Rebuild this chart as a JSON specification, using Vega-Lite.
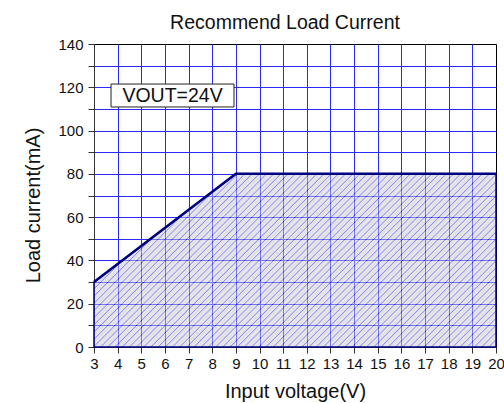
{
  "$schema": "https://vega.github.io/schema/vega-lite/v6.json",
  "width": 402,
  "height": 303,
  "autosize": "none",
  "padding": {"left": 94, "top": 44, "right": 8, "bottom": 56},
  "background": "white",
  "config": {"view": {"stroke": "#000000", "strokeWidth": 1}, "font": "Liberation Sans"},
  "title": {"text": "Recommend Load Current", "fontSize": 19.5, "fontWeight": "normal", "color": "#111111", "dx": -10, "offset": 4, "font": "Liberation Sans"},
  "datasets": {
    "curve": [
      {"v": 3, "i": 30},
      {"v": 9, "i": 80},
      {"v": 20, "i": 80}
    ],
    "box": [
      {"v": 3.72, "v2": 8.92, "i": 110.9, "i2": 121.5}
    ],
    "label": [
      {"v": 6.32, "i": 116.2, "label": "VOUT=24V"}
    ]
  },
  "encoding": {
    "x": {
      "field": "v", "type": "quantitative",
      "scale": {"domain": [3, 20], "nice": false, "zero": false},
      "axis": {
        "title": "Input voltage(V)",
        "values": [3, 4, 5, 6, 7, 8, 9, 10, 11, 12, 13, 14, 15, 16, 17, 18, 19, 20],
        "labelFontSize": 15, "labelColor": "#111111", "labelPadding": 3, "labelFlush": false, "labelOverlap": false,
        "tickSize": 6, "tickColor": "#333333", "domainColor": "#333333",
        "titleFontSize": 20, "titleFontWeight": "normal", "titleColor": "#111111", "titlePadding": 10,
        "gridColor": {"condition": {"test": "datum.value == 20", "value": "transparent"}, "value": "#2828ff"},
        "gridOpacity": 1, "gridWidth": 1
      }
    },
    "y": {
      "field": "i", "type": "quantitative",
      "scale": {"domain": [0, 140], "nice": false},
      "axis": {
        "title": "Load current(mA)",
        "values": [0, 10, 20, 30, 40, 50, 60, 70, 80, 90, 100, 110, 120, 130, 140],
        "labelExpr": "datum.value % 20 === 0 ? datum.label : ''",
        "labelFontSize": 15, "labelColor": "#111111", "labelPadding": 5, "labelFlush": false, "labelOverlap": false,
        "tickSize": 6, "tickColor": "#333333", "domainColor": "#333333",
        "titleFontSize": 20, "titleFontWeight": "normal", "titleColor": "#111111", "titlePadding": 14, "titleY": 161,
        "gridColor": {"condition": {"test": "datum.value == 140", "value": "transparent"}, "value": "#2828ff"},
        "gridOpacity": 1, "gridWidth": 1
      }
    }
  },
  "layer": [
    {
      "data": {"name": "curve"},
      "mark": {
        "type": "area",
        "fillOpacity": 0.5,
        "stroke": "#000080",
        "strokeWidth": 1.5,
        "fill": {
          "gradient": "linear", "x1": 0, "y1": 0, "x2": 1.2068, "y2": 0.5198,
          "stops": [
            {"offset": 0.0105, "color": "#c9c9d1"}, {"offset": 0.0125, "color": "#2020e0"}, {"offset": 0.0145, "color": "#c9c9d1"},
            {"offset": 0.023, "color": "#c9c9d1"}, {"offset": 0.025, "color": "#2020e0"}, {"offset": 0.027, "color": "#c9c9d1"},
            {"offset": 0.0355, "color": "#c9c9d1"}, {"offset": 0.0375, "color": "#2020e0"}, {"offset": 0.0395, "color": "#c9c9d1"},
            {"offset": 0.048, "color": "#c9c9d1"}, {"offset": 0.05, "color": "#2020e0"}, {"offset": 0.052, "color": "#c9c9d1"},
            {"offset": 0.0605, "color": "#c9c9d1"}, {"offset": 0.0625, "color": "#2020e0"}, {"offset": 0.0645, "color": "#c9c9d1"},
            {"offset": 0.073, "color": "#c9c9d1"}, {"offset": 0.075, "color": "#2020e0"}, {"offset": 0.077, "color": "#c9c9d1"},
            {"offset": 0.0855, "color": "#c9c9d1"}, {"offset": 0.0875, "color": "#2020e0"}, {"offset": 0.0895, "color": "#c9c9d1"},
            {"offset": 0.098, "color": "#c9c9d1"}, {"offset": 0.1, "color": "#2020e0"}, {"offset": 0.102, "color": "#c9c9d1"},
            {"offset": 0.1105, "color": "#c9c9d1"}, {"offset": 0.1125, "color": "#2020e0"}, {"offset": 0.1145, "color": "#c9c9d1"},
            {"offset": 0.123, "color": "#c9c9d1"}, {"offset": 0.125, "color": "#2020e0"}, {"offset": 0.127, "color": "#c9c9d1"},
            {"offset": 0.1355, "color": "#c9c9d1"}, {"offset": 0.1375, "color": "#2020e0"}, {"offset": 0.1395, "color": "#c9c9d1"},
            {"offset": 0.148, "color": "#c9c9d1"}, {"offset": 0.15, "color": "#2020e0"}, {"offset": 0.152, "color": "#c9c9d1"},
            {"offset": 0.1605, "color": "#c9c9d1"}, {"offset": 0.1625, "color": "#2020e0"}, {"offset": 0.1645, "color": "#c9c9d1"},
            {"offset": 0.173, "color": "#c9c9d1"}, {"offset": 0.175, "color": "#2020e0"}, {"offset": 0.177, "color": "#c9c9d1"},
            {"offset": 0.1855, "color": "#c9c9d1"}, {"offset": 0.1875, "color": "#2020e0"}, {"offset": 0.1895, "color": "#c9c9d1"},
            {"offset": 0.198, "color": "#c9c9d1"}, {"offset": 0.2, "color": "#2020e0"}, {"offset": 0.202, "color": "#c9c9d1"},
            {"offset": 0.2105, "color": "#c9c9d1"}, {"offset": 0.2125, "color": "#2020e0"}, {"offset": 0.2145, "color": "#c9c9d1"},
            {"offset": 0.223, "color": "#c9c9d1"}, {"offset": 0.225, "color": "#2020e0"}, {"offset": 0.227, "color": "#c9c9d1"},
            {"offset": 0.2355, "color": "#c9c9d1"}, {"offset": 0.2375, "color": "#2020e0"}, {"offset": 0.2395, "color": "#c9c9d1"},
            {"offset": 0.248, "color": "#c9c9d1"}, {"offset": 0.25, "color": "#2020e0"}, {"offset": 0.252, "color": "#c9c9d1"},
            {"offset": 0.2605, "color": "#c9c9d1"}, {"offset": 0.2625, "color": "#2020e0"}, {"offset": 0.2645, "color": "#c9c9d1"},
            {"offset": 0.273, "color": "#c9c9d1"}, {"offset": 0.275, "color": "#2020e0"}, {"offset": 0.277, "color": "#c9c9d1"},
            {"offset": 0.2855, "color": "#c9c9d1"}, {"offset": 0.2875, "color": "#2020e0"}, {"offset": 0.2895, "color": "#c9c9d1"},
            {"offset": 0.298, "color": "#c9c9d1"}, {"offset": 0.3, "color": "#2020e0"}, {"offset": 0.302, "color": "#c9c9d1"},
            {"offset": 0.3105, "color": "#c9c9d1"}, {"offset": 0.3125, "color": "#2020e0"}, {"offset": 0.3145, "color": "#c9c9d1"},
            {"offset": 0.323, "color": "#c9c9d1"}, {"offset": 0.325, "color": "#2020e0"}, {"offset": 0.327, "color": "#c9c9d1"},
            {"offset": 0.3355, "color": "#c9c9d1"}, {"offset": 0.3375, "color": "#2020e0"}, {"offset": 0.3395, "color": "#c9c9d1"},
            {"offset": 0.348, "color": "#c9c9d1"}, {"offset": 0.35, "color": "#2020e0"}, {"offset": 0.352, "color": "#c9c9d1"},
            {"offset": 0.3605, "color": "#c9c9d1"}, {"offset": 0.3625, "color": "#2020e0"}, {"offset": 0.3645, "color": "#c9c9d1"},
            {"offset": 0.373, "color": "#c9c9d1"}, {"offset": 0.375, "color": "#2020e0"}, {"offset": 0.377, "color": "#c9c9d1"},
            {"offset": 0.3855, "color": "#c9c9d1"}, {"offset": 0.3875, "color": "#2020e0"}, {"offset": 0.3895, "color": "#c9c9d1"},
            {"offset": 0.398, "color": "#c9c9d1"}, {"offset": 0.4, "color": "#2020e0"}, {"offset": 0.402, "color": "#c9c9d1"},
            {"offset": 0.4105, "color": "#c9c9d1"}, {"offset": 0.4125, "color": "#2020e0"}, {"offset": 0.4145, "color": "#c9c9d1"},
            {"offset": 0.423, "color": "#c9c9d1"}, {"offset": 0.425, "color": "#2020e0"}, {"offset": 0.427, "color": "#c9c9d1"},
            {"offset": 0.4355, "color": "#c9c9d1"}, {"offset": 0.4375, "color": "#2020e0"}, {"offset": 0.4395, "color": "#c9c9d1"},
            {"offset": 0.448, "color": "#c9c9d1"}, {"offset": 0.45, "color": "#2020e0"}, {"offset": 0.452, "color": "#c9c9d1"},
            {"offset": 0.4605, "color": "#c9c9d1"}, {"offset": 0.4625, "color": "#2020e0"}, {"offset": 0.4645, "color": "#c9c9d1"},
            {"offset": 0.473, "color": "#c9c9d1"}, {"offset": 0.475, "color": "#2020e0"}, {"offset": 0.477, "color": "#c9c9d1"},
            {"offset": 0.4855, "color": "#c9c9d1"}, {"offset": 0.4875, "color": "#2020e0"}, {"offset": 0.4895, "color": "#c9c9d1"},
            {"offset": 0.498, "color": "#c9c9d1"}, {"offset": 0.5, "color": "#2020e0"}, {"offset": 0.502, "color": "#c9c9d1"},
            {"offset": 0.5105, "color": "#c9c9d1"}, {"offset": 0.5125, "color": "#2020e0"}, {"offset": 0.5145, "color": "#c9c9d1"},
            {"offset": 0.523, "color": "#c9c9d1"}, {"offset": 0.525, "color": "#2020e0"}, {"offset": 0.527, "color": "#c9c9d1"},
            {"offset": 0.5355, "color": "#c9c9d1"}, {"offset": 0.5375, "color": "#2020e0"}, {"offset": 0.5395, "color": "#c9c9d1"},
            {"offset": 0.548, "color": "#c9c9d1"}, {"offset": 0.55, "color": "#2020e0"}, {"offset": 0.552, "color": "#c9c9d1"},
            {"offset": 0.5605, "color": "#c9c9d1"}, {"offset": 0.5625, "color": "#2020e0"}, {"offset": 0.5645, "color": "#c9c9d1"},
            {"offset": 0.573, "color": "#c9c9d1"}, {"offset": 0.575, "color": "#2020e0"}, {"offset": 0.577, "color": "#c9c9d1"},
            {"offset": 0.5855, "color": "#c9c9d1"}, {"offset": 0.5875, "color": "#2020e0"}, {"offset": 0.5895, "color": "#c9c9d1"},
            {"offset": 0.598, "color": "#c9c9d1"}, {"offset": 0.6, "color": "#2020e0"}, {"offset": 0.602, "color": "#c9c9d1"},
            {"offset": 0.6105, "color": "#c9c9d1"}, {"offset": 0.6125, "color": "#2020e0"}, {"offset": 0.6145, "color": "#c9c9d1"},
            {"offset": 0.623, "color": "#c9c9d1"}, {"offset": 0.625, "color": "#2020e0"}, {"offset": 0.627, "color": "#c9c9d1"},
            {"offset": 0.6355, "color": "#c9c9d1"}, {"offset": 0.6375, "color": "#2020e0"}, {"offset": 0.6395, "color": "#c9c9d1"},
            {"offset": 0.648, "color": "#c9c9d1"}, {"offset": 0.65, "color": "#2020e0"}, {"offset": 0.652, "color": "#c9c9d1"},
            {"offset": 0.6605, "color": "#c9c9d1"}, {"offset": 0.6625, "color": "#2020e0"}, {"offset": 0.6645, "color": "#c9c9d1"},
            {"offset": 0.673, "color": "#c9c9d1"}, {"offset": 0.675, "color": "#2020e0"}, {"offset": 0.677, "color": "#c9c9d1"},
            {"offset": 0.6855, "color": "#c9c9d1"}, {"offset": 0.6875, "color": "#2020e0"}, {"offset": 0.6895, "color": "#c9c9d1"},
            {"offset": 0.698, "color": "#c9c9d1"}, {"offset": 0.7, "color": "#2020e0"}, {"offset": 0.702, "color": "#c9c9d1"},
            {"offset": 0.7105, "color": "#c9c9d1"}, {"offset": 0.7125, "color": "#2020e0"}, {"offset": 0.7145, "color": "#c9c9d1"},
            {"offset": 0.723, "color": "#c9c9d1"}, {"offset": 0.725, "color": "#2020e0"}, {"offset": 0.727, "color": "#c9c9d1"},
            {"offset": 0.7355, "color": "#c9c9d1"}, {"offset": 0.7375, "color": "#2020e0"}, {"offset": 0.7395, "color": "#c9c9d1"},
            {"offset": 0.748, "color": "#c9c9d1"}, {"offset": 0.75, "color": "#2020e0"}, {"offset": 0.752, "color": "#c9c9d1"},
            {"offset": 0.7605, "color": "#c9c9d1"}, {"offset": 0.7625, "color": "#2020e0"}, {"offset": 0.7645, "color": "#c9c9d1"},
            {"offset": 0.773, "color": "#c9c9d1"}, {"offset": 0.775, "color": "#2020e0"}, {"offset": 0.777, "color": "#c9c9d1"},
            {"offset": 0.7855, "color": "#c9c9d1"}, {"offset": 0.7875, "color": "#2020e0"}, {"offset": 0.7895, "color": "#c9c9d1"},
            {"offset": 0.798, "color": "#c9c9d1"}, {"offset": 0.8, "color": "#2020e0"}, {"offset": 0.802, "color": "#c9c9d1"},
            {"offset": 0.8105, "color": "#c9c9d1"}, {"offset": 0.8125, "color": "#2020e0"}, {"offset": 0.8145, "color": "#c9c9d1"},
            {"offset": 0.823, "color": "#c9c9d1"}, {"offset": 0.825, "color": "#2020e0"}, {"offset": 0.827, "color": "#c9c9d1"},
            {"offset": 0.8355, "color": "#c9c9d1"}, {"offset": 0.8375, "color": "#2020e0"}, {"offset": 0.8395, "color": "#c9c9d1"},
            {"offset": 0.848, "color": "#c9c9d1"}, {"offset": 0.85, "color": "#2020e0"}, {"offset": 0.852, "color": "#c9c9d1"},
            {"offset": 0.8605, "color": "#c9c9d1"}, {"offset": 0.8625, "color": "#2020e0"}, {"offset": 0.8645, "color": "#c9c9d1"},
            {"offset": 0.873, "color": "#c9c9d1"}, {"offset": 0.875, "color": "#2020e0"}, {"offset": 0.877, "color": "#c9c9d1"},
            {"offset": 0.8855, "color": "#c9c9d1"}, {"offset": 0.8875, "color": "#2020e0"}, {"offset": 0.8895, "color": "#c9c9d1"},
            {"offset": 0.898, "color": "#c9c9d1"}, {"offset": 0.9, "color": "#2020e0"}, {"offset": 0.902, "color": "#c9c9d1"},
            {"offset": 0.9105, "color": "#c9c9d1"}, {"offset": 0.9125, "color": "#2020e0"}, {"offset": 0.9145, "color": "#c9c9d1"},
            {"offset": 0.923, "color": "#c9c9d1"}, {"offset": 0.925, "color": "#2020e0"}, {"offset": 0.927, "color": "#c9c9d1"},
            {"offset": 0.9355, "color": "#c9c9d1"}, {"offset": 0.9375, "color": "#2020e0"}, {"offset": 0.9395, "color": "#c9c9d1"},
            {"offset": 0.948, "color": "#c9c9d1"}, {"offset": 0.95, "color": "#2020e0"}, {"offset": 0.952, "color": "#c9c9d1"},
            {"offset": 0.9605, "color": "#c9c9d1"}, {"offset": 0.9625, "color": "#2020e0"}, {"offset": 0.9645, "color": "#c9c9d1"},
            {"offset": 0.973, "color": "#c9c9d1"}, {"offset": 0.975, "color": "#2020e0"}, {"offset": 0.977, "color": "#c9c9d1"},
            {"offset": 0.9855, "color": "#c9c9d1"}, {"offset": 0.9875, "color": "#2020e0"}, {"offset": 0.9895, "color": "#c9c9d1"}
          ]
        }
      }
    },
    {
      "data": {"name": "curve"},
      "mark": {"type": "line", "stroke": "#000080", "strokeWidth": 2.5}
    },
    {
      "data": {"name": "box"},
      "mark": {"type": "rect", "fill": "white", "stroke": "#222222", "strokeWidth": 1},
      "encoding": {
        "x2": {"field": "v2"},
        "y2": {"field": "i2"}
      }
    },
    {
      "data": {"name": "label"},
      "mark": {"type": "text", "fontSize": 19.5, "color": "#111111", "align": "center", "baseline": "middle", "font": "Liberation Sans"},
      "encoding": {
        "text": {"field": "label"}
      }
    }
  ]
}
